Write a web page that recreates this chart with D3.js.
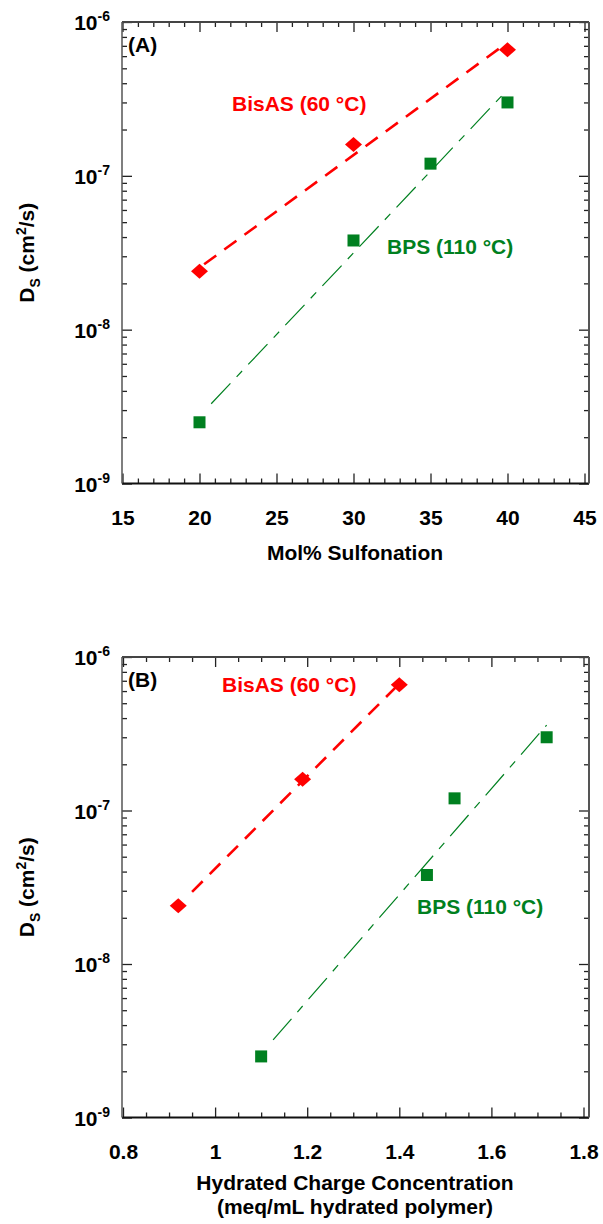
<!DOCTYPE html>
<html>
<head>
<meta charset="utf-8">
<script src="https://cdn.jsdelivr.net/npm/d3@7"></script>
<style>
  body { margin: 0; background: #fff; }
  text { font-family: "Liberation Sans", Arial, sans-serif; font-weight: bold; }
</style>
</head>
<body>
<div class="chart"></div>
<script>
// ---- data ----
const molPct = [20, 30, 40];
const bisasDs = [2.4e-8, 1.6e-7, 6.6e-7];
const bpsMolPct = [20, 30, 35, 40];
const bpsDs = [2.5e-9, 3.8e-8, 1.2e-7, 3.0e-7];

const bisasConc = [0.92, 1.19, 1.40];
const bpsConc = [1.10, 1.46, 1.52, 1.72];

// fitted trend lines (endpoints as drawn)
const bisasFitA = [[20.3, 2.66e-8], [39.7, 7.0e-7]];
const bpsFitA = [[20.76, 3.3e-9], [40, 3.63e-7]];
const bisasFitB = [[0.95, 2.95e-8], [1.40, 6.7e-7]];
const bpsFitB = [[1.126, 3.2e-9], [1.72, 3.6e-7]];

const xTicksA = [15, 20, 25, 30, 35, 40, 45];
const xTicksB = [0.8, 1, 1.2, 1.4, 1.6, 1.8];
const yExps = [-9, -8, -7, -6];

const red = "#ff0000", green = "#008020";

const W = 603, H = 1224;
const svg = d3.select(".chart").append("svg")
  .attr("width", W).attr("height", H);

function drawPanel(p) {
  const g = svg.append("g");
  const x = d3.scaleLinear().domain(p.xDomain).range(p.xRange);
  const y = d3.scaleLog().domain([1e-9, 1e-6]).range([p.bottom, p.top]);

  // minor ticks
  const xMinor = d3.range(p.xDomain[0], p.xDomain[1] + p.minorStep / 2, p.minorStep)
    .filter(v => !p.xTicks.some(t => Math.abs(t - v) < 1e-9));
  let yMinor = [];
  yExps.slice(0, 3).forEach(e => { for (let m = 2; m <= 9; m++) yMinor.push(m * Math.pow(10, e)); });
  const yMajor = yExps.map(e => Math.pow(10, e));

  const tickStyle = sel => { sel.select(".domain").remove(); sel.selectAll("line").attr("stroke", "#222").attr("stroke-width", 1.3); };

  // bottom
  g.append("g").attr("transform", `translate(0,${p.bottom})`)
    .call(d3.axisBottom(x).tickValues(p.xTicks).tickSizeInner(-10).tickSizeOuter(0).tickPadding(27)
      .tickFormat(d => d3.format("")(d)))
    .call(tickStyle)
    .call(s => s.selectAll("text").attr("font-size", 21).attr("fill", "#000").style("font-family", "Liberation Sans, Arial, sans-serif").style("font-weight", "bold"));
  g.append("g").attr("transform", `translate(0,${p.bottom})`)
    .call(d3.axisBottom(x).tickValues(xMinor).tickSizeInner(-5).tickSizeOuter(0).tickFormat(""))
    .call(tickStyle);
  // top
  g.append("g").attr("transform", `translate(0,${p.top})`)
    .call(d3.axisTop(x).tickValues(p.xTicks).tickSizeInner(-10).tickSizeOuter(0).tickFormat(""))
    .call(tickStyle);
  g.append("g").attr("transform", `translate(0,${p.top})`)
    .call(d3.axisTop(x).tickValues(xMinor).tickSizeInner(-5).tickSizeOuter(0).tickFormat(""))
    .call(tickStyle);
  // left
  g.append("g").attr("transform", `translate(122,0)`)
    .call(d3.axisLeft(y).tickValues(yMajor).tickSizeInner(-10).tickSizeOuter(0).tickFormat(""))
    .call(tickStyle);
  g.append("g").attr("transform", `translate(122,0)`)
    .call(d3.axisLeft(y).tickValues(yMinor).tickSizeInner(-5).tickSizeOuter(0).tickFormat(""))
    .call(tickStyle);
  // right
  g.append("g").attr("transform", `translate(589,0)`)
    .call(d3.axisRight(y).tickValues(yMajor).tickSizeInner(-10).tickSizeOuter(0).tickFormat(""))
    .call(tickStyle);
  g.append("g").attr("transform", `translate(589,0)`)
    .call(d3.axisRight(y).tickValues(yMinor).tickSizeInner(-5).tickSizeOuter(0).tickFormat(""))
    .call(tickStyle);

  // frame
  g.append("line").attr("x1", 122).attr("x2", 589).attr("y1", p.bottom).attr("y2", p.bottom).attr("stroke", "#111").attr("stroke-width", 2);
  g.append("line").attr("x1", 122).attr("x2", 589).attr("y1", p.top).attr("y2", p.top).attr("stroke", "#444").attr("stroke-width", 2);
  g.append("line").attr("x1", 122).attr("x2", 122).attr("y1", p.top).attr("y2", p.bottom).attr("stroke", "#555").attr("stroke-width", 1.5);
  g.append("line").attr("x1", 589).attr("x2", 589).attr("y1", p.top).attr("y2", p.bottom).attr("stroke", "#555").attr("stroke-width", 2);

  // y tick labels 10^n
  const yl = g.selectAll(".ylab").data(yExps).enter().append("text")
    .attr("class", "ylab")
    .attr("text-anchor", "end")
    .attr("x", 110)
    .attr("y", e => y(Math.pow(10, e)) + 8)
    .attr("font-size", 21);
  yl.append("tspan").text("10");
  yl.append("tspan").attr("dy", -9).attr("font-size", 14).text(e => e);

  // y axis title
  const yt = g.append("text")
    .attr("transform", `translate(34,${(p.top + p.bottom) / 2}) rotate(-90)`)
    .attr("text-anchor", "middle").attr("font-size", 21);
  yt.append("tspan").text("D");
  yt.append("tspan").attr("dy", 6).attr("font-size", 14).text("S");
  yt.append("tspan").attr("dy", -6).text(" (cm");
  yt.append("tspan").attr("dy", -8).attr("font-size", 14).text("2");
  yt.append("tspan").attr("dy", 8).text("/s)");

  // x axis title
  p.xTitle.forEach((t, i) => {
    g.append("text").attr("x", 355).attr("y", p.titleY[i])
      .attr("text-anchor", "middle").attr("font-size", 21).text(t);
  });

  // fit lines
  const line = d3.line().x(d => x(d[0])).y(d => y(d[1]));
  g.append("path").datum(p.bisasFit).attr("d", line)
    .attr("fill", "none").attr("stroke", red).attr("stroke-width", 2.6)
    .attr("stroke-dasharray", "15,10");
  g.append("path").datum(p.bpsFit).attr("d", line)
    .attr("fill", "none").attr("stroke", green).attr("stroke-width", 1.2)
    .attr("stroke-dasharray", "28,9,8,9");

  // markers
  g.selectAll(".dia").data(p.bisasX).enter().append("path")
    .attr("d", "M0,-7.5L8.5,0L0,7.5L-8.5,0Z")
    .attr("transform", (d, i) => `translate(${x(d)},${y(bisasDs[i])})`)
    .attr("fill", red);
  g.selectAll(".sq").data(p.bpsX).enter().append("rect")
    .attr("x", d => x(d) - 6)
    .attr("y", (d, i) => y(bpsDs[i]) - 6)
    .attr("width", 12).attr("height", 12)
    .attr("fill", green);

  // annotations
  g.append("text").attr("x", 128).attr("y", p.top + 30).attr("font-size", 21).attr("fill", "#000").text(p.tag);
  g.append("text").attr("x", p.bisasLab[0]).attr("y", p.bisasLab[1]).attr("font-size", 21).attr("fill", red).text("BisAS (60 °C)");
  g.append("text").attr("x", p.bpsLab[0]).attr("y", p.bpsLab[1]).attr("font-size", 21).attr("fill", green).text("BPS (110 °C)");
}

drawPanel({
  top: 22, bottom: 483.5,
  xDomain: [15, 45], xRange: [122.5, 584.5], xTicks: xTicksA, minorStep: 1,
  xTitle: ["Mol% Sulfonation"], titleY: [560],
  bisasX: molPct, bpsX: bpsMolPct,
  bisasFit: bisasFitA, bpsFit: bpsFitA,
  tag: "(A)", bisasLab: [232, 111], bpsLab: [387, 254]
});

drawPanel({
  top: 657, bottom: 1117.5,
  xDomain: [0.8, 1.8], xRange: [123, 583.5], xTicks: xTicksB, minorStep: 0.05,
  xTitle: ["Hydrated Charge Concentration", "(meq/mL hydrated polymer)"], titleY: [1190, 1214],
  bisasX: bisasConc, bpsX: bpsConc,
  bisasFit: bisasFitB, bpsFit: bpsFitB,
  tag: "(B)", bisasLab: [222, 692], bpsLab: [417, 914]
});
</script>
</body>
</html>
